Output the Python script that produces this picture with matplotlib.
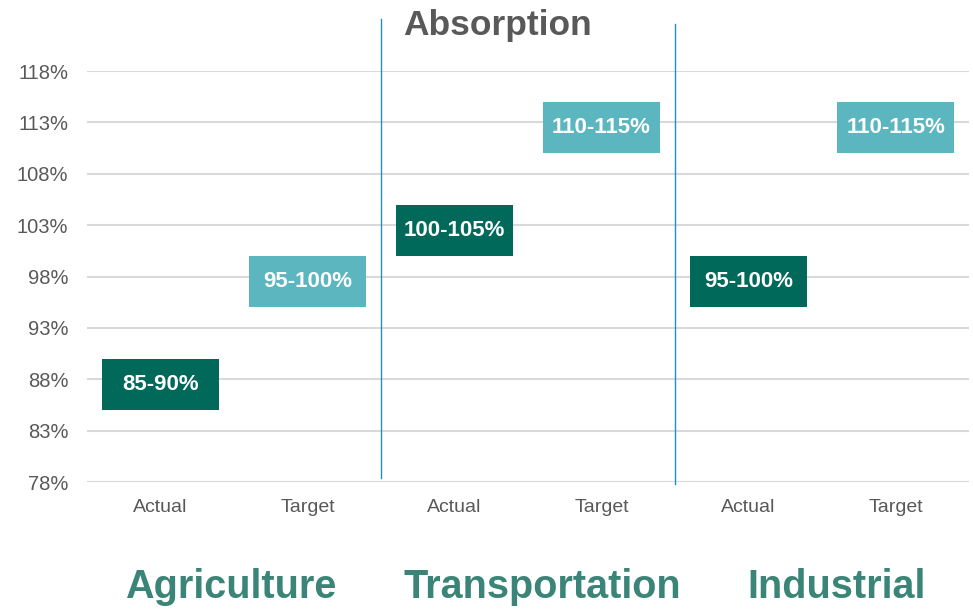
import matplotlib.pyplot as plt
from matplotlib.transforms import blended_transform_factory

plt.rcParams['font.family'] = ['Liberation Sans', 'DejaVu Sans']

sectors = ['Agriculture', 'Transportation', 'Industrial']
kinds = ['Actual', 'Target']
lows = [85, 95, 100, 110, 95, 110]
highs = [90, 100, 105, 115, 100, 115]
labels = ['85-90%', '95-100%', '100-105%', '110-115%', '95-100%', '110-115%']
yticks = [78, 83, 88, 93, 98, 103, 108, 113, 118]

dark = '#00695A'
light = '#5BB6C0'
grey = '#595959'

fig = plt.figure(figsize=(9.73, 6.09), dpi=100)
ax = fig.add_axes([0.0894, 0.2085, 0.9066, 0.6749])

xs = list(range(len(lows)))
colors = [dark if i % 2 == 0 else light for i in xs]
heights = [h - l for l, h in zip(lows, highs)]
ax.bar(xs, heights, bottom=lows, width=0.8, color=colors, zorder=3)
for x, l, h, t in zip(xs, lows, highs, labels):
    ax.text(x, (l + h) / 2, t, ha='center', va='center', color='white',
            fontsize=16, fontweight='bold', zorder=4)

ax.set_xlim(-0.5, 5.5)
ax.set_ylim(78, 118)
ax.set_yticks(yticks)
ax.set_yticklabels([f'{v}%' for v in yticks])
ax.set_xticks(xs)
ax.set_xticklabels(kinds * len(sectors))
ax.tick_params(length=0, labelcolor=grey)
ax.tick_params(axis='y', labelsize=14.5, pad=13.5)
ax.tick_params(axis='x', labelsize=14, pad=12)
ax.grid(axis='y', color='#D9D9D9', linewidth=1.5, zorder=0)
for s in ax.spines.values():
    s.set_visible(False)

# separators between sectors
ax.plot([1.5, 1.5], [78.4, 123.1], color='#1F8FC8', linewidth=1.0, clip_on=False)
ax.plot([3.5, 3.5], [77.8, 122.6], color='#1F8FC8', linewidth=1.0, clip_on=False)

fig.text(0.511, 0.958, 'Absorption', ha='center', va='center', fontsize=25.5,
         fontweight='bold', color=grey)

trans = blended_transform_factory(ax.transData, fig.transFigure)
for x, name in zip([0.48, 2.6, 4.6], sectors):
    ax.text(x, 0.036, name, transform=trans, ha='center', va='center',
            fontsize=28.5, fontweight='bold', color='#3A8577')

fig.savefig('out.png', dpi=100)
